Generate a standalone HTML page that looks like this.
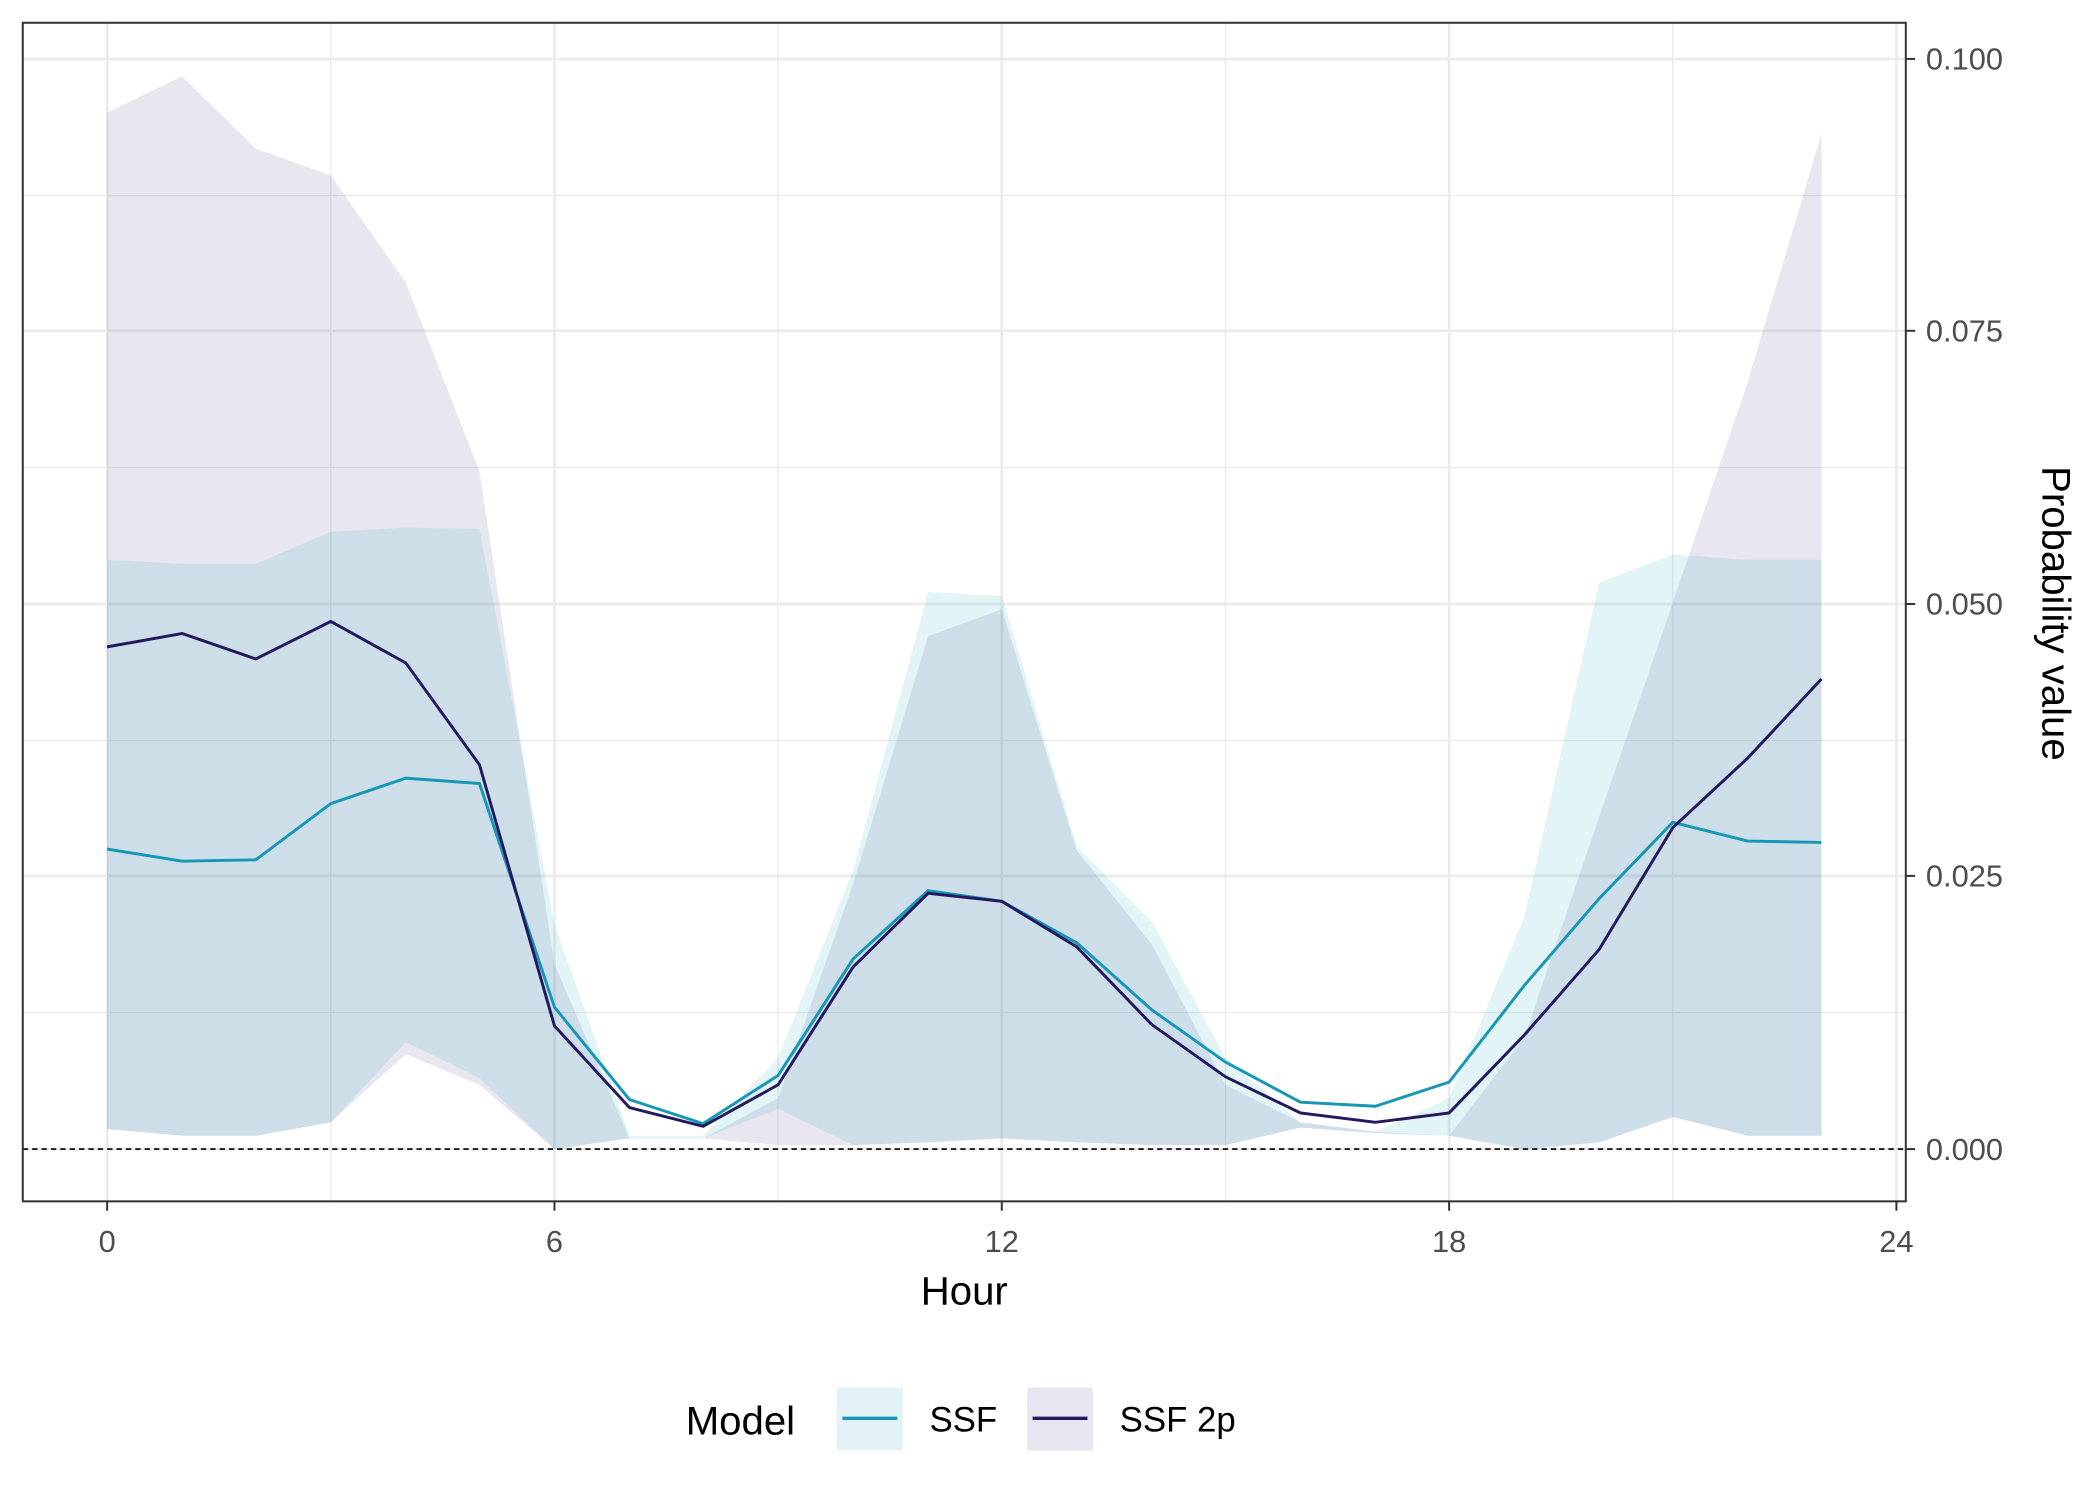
<!DOCTYPE html>
<html><head><style>html,body{margin:0;padding:0;background:#fff}svg{display:block}</style></head>
<body>
<svg width="2100" height="1500" viewBox="0 0 1568 1120" preserveAspectRatio="none" xmlns="http://www.w3.org/2000/svg" font-family="Liberation Sans, sans-serif">
<rect width="1568" height="1120" fill="#fff"/>
<g stroke="#ebebeb" stroke-width="1">
<line x1="17" x2="1423" y1="146" y2="146"/><line x1="17" x2="1423" y1="349" y2="349"/><line x1="17" x2="1423" y1="553" y2="553"/><line x1="17" x2="1423" y1="756" y2="756"/>
<line x1="247" x2="247" y1="17" y2="897"/><line x1="581" x2="581" y1="17" y2="897"/><line x1="915" x2="915" y1="17" y2="897"/><line x1="1249" x2="1249" y1="17" y2="897"/>
</g>
<g stroke="#ebebeb" stroke-width="2">
<line x1="17" x2="1423" y1="44" y2="44"/><line x1="17" x2="1423" y1="247" y2="247"/><line x1="17" x2="1423" y1="451" y2="451"/><line x1="17" x2="1423" y1="654" y2="654"/><line x1="17" x2="1423" y1="858" y2="858"/>
<line x1="80" x2="80" y1="17" y2="897"/><line x1="414" x2="414" y1="17" y2="897"/><line x1="748" x2="748" y1="17" y2="897"/><line x1="1082" x2="1082" y1="17" y2="897"/><line x1="1416" x2="1416" y1="17" y2="897"/>
</g>
<!-- SSF 2p ribbon -->
<polygon fill="#2a1a6e" fill-opacity="0.11" points="80,84 136,57 191,111 247,131 303,211 358,352 414,720 470,850 525,850 581,820 637,660 693,475 748,455 804,635 860,705 915,810 971,838 1027,845 1082,848 1138,775 1194,610 1249,450 1305,285 1360,100 1360,848 1305,848 1249,834 1194,853 1138,858 1082,848 1027,846 971,842 915,855 860,855 804,853 748,850 693,853 637,855 581,855 525,850 470,850 414,858 358,810 303,787 247,838 191,848 136,848 80,843"/>
<!-- SSF ribbon -->
<polygon fill="#1aa3bf" fill-opacity="0.12" points="80,418 136,421 191,421 247,397 303,394 358,395 414,690 470,848 525,848 581,790 637,650 693,442 748,445 804,632 860,688 915,790 971,838 1027,845 1082,820 1138,685 1194,435 1249,414 1305,418 1360,418 1360,848 1305,848 1249,834 1194,853 1138,858 1082,848 1027,846 971,842 915,855 860,855 804,853 748,850 693,853 637,855 581,828 525,850 470,850 414,858 358,805 303,778 247,838 191,848 136,848 80,843"/>
<line x1="17" x2="1423" y1="858" y2="858" stroke="#000" stroke-width="1.2" stroke-dasharray="4,3"/>
<polyline fill="none" stroke="#1597b5" stroke-width="2.2" points="80,634 136,643 191,642 247,600 303,581 358,585 414,752 470,821 525,839 581,803 637,716 693,665 748,673 804,704 860,754 915,793 971,823 1027,826 1082,808 1138,736 1194,671 1249,614 1305,628 1360,629"/>
<polyline fill="none" stroke="#24195c" stroke-width="2.2" points="80,483 136,473 191,492 247,464 303,495 358,571 414,766 470,827 525,841 581,810 637,722 693,667 748,673 804,707 860,765 915,804 971,831 1027,838 1082,831 1138,773 1194,709 1249,618 1305,566 1360,507"/>
<rect x="17" y="17" width="1406" height="880" fill="none" stroke="#333" stroke-width="1.5"/>
<g stroke="#333" stroke-width="1.5">
<line x1="80" x2="80" y1="897" y2="904"/><line x1="414" x2="414" y1="897" y2="904"/><line x1="748" x2="748" y1="897" y2="904"/><line x1="1082" x2="1082" y1="897" y2="904"/><line x1="1416" x2="1416" y1="897" y2="904"/>
<line x1="1423" x2="1430" y1="44" y2="44"/><line x1="1423" x2="1430" y1="247" y2="247"/><line x1="1423" x2="1430" y1="451" y2="451"/><line x1="1423" x2="1430" y1="654" y2="654"/><line x1="1423" x2="1430" y1="858" y2="858"/>
</g>
<g font-size="23" fill="#4d4d4d" text-anchor="middle">
<text x="80" y="935">0</text><text x="414" y="935">6</text><text x="748" y="935">12</text><text x="1082" y="935">18</text><text x="1416" y="935">24</text>
</g>
<g font-size="23" fill="#4d4d4d">
<text x="1438" y="52">0.100</text><text x="1438" y="255">0.075</text><text x="1438" y="459">0.050</text><text x="1438" y="662">0.025</text><text x="1438" y="866">0.000</text>
</g>
<text x="720" y="974" font-size="30" text-anchor="middle">Hour</text>
<text transform="translate(1525,458) rotate(90)" font-size="30" text-anchor="middle">Probability value</text>
<text x="512" y="1071" font-size="30">Model</text>
<rect x="625" y="1036" width="49" height="47" fill="#e3f2f6"/>
<line x1="629" x2="670" y1="1059" y2="1059" stroke="#1597b5" stroke-width="2.5"/>
<text x="694" y="1069" font-size="26">SSF</text>
<rect x="767" y="1036" width="49" height="47" fill="#e7e5f0"/>
<line x1="771" x2="812" y1="1059" y2="1059" stroke="#24195c" stroke-width="2.5"/>
<text x="836" y="1069" font-size="26">SSF 2p</text>
</svg>
</body></html>
